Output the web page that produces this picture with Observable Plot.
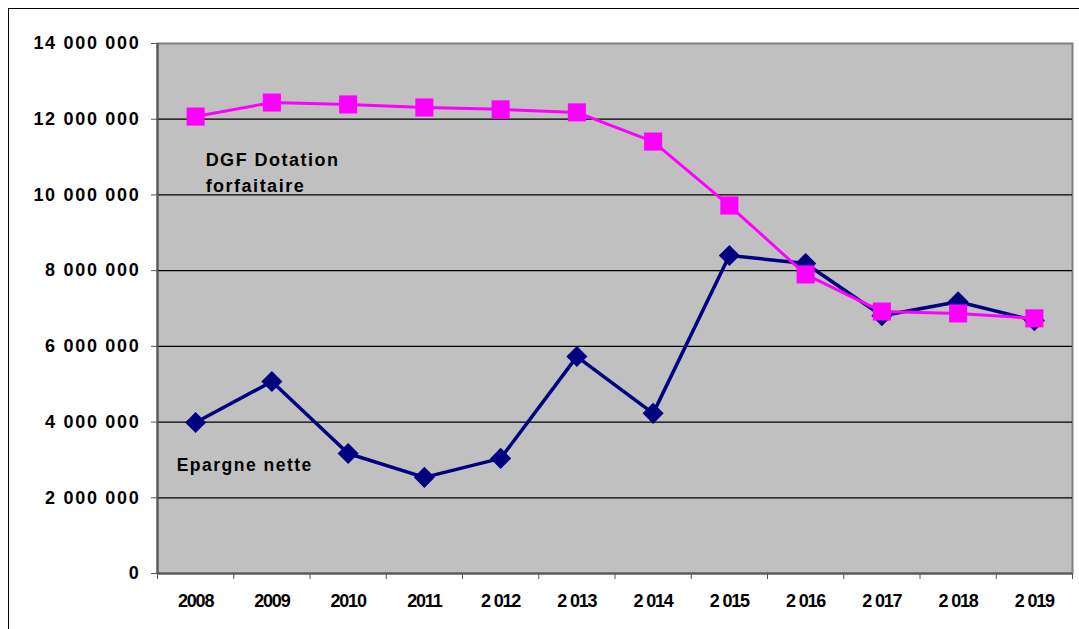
<!DOCTYPE html>
<html>
<head>
<meta charset="utf-8">
<script src="https://cdn.jsdelivr.net/npm/d3@7"></script>
<script src="https://cdn.jsdelivr.net/npm/@observablehq/plot@0.6"></script>
<style>
  html, body { margin: 0; padding: 0; background: #fff; }
  #wrap { position: relative; width: 1079px; height: 629px; overflow: hidden; }
  #border { position: absolute; left: 8px; top: 8px; width: 1200px; height: 800px;
            border-left: 1.5px solid #000; border-top: 1.5px solid #000; pointer-events: none; }
  #chart { position: absolute; left: 0; top: 0; }
  #chart svg text { font-family: "Liberation Sans", Arial, sans-serif; font-weight: bold; fill: #000; }
  #chart g[aria-label="y-axis tick label"] text { letter-spacing: 1.7px; }
  #chart g.xlab text { letter-spacing: -1.2px; }
  #chart g.lbl text { letter-spacing: 1.5px; }
</style>
</head>
<body>
<div id="wrap">
  <div id="chart"></div>
  <div id="border"></div>
</div>
<script>
const years = ["2008","2009","2010","2011","2 012","2 013","2 014","2 015","2 016","2 017","2 018","2 019"];
const dgf = [12070000, 12440000, 12390000, 12310000, 12260000, 12180000, 11410000, 9720000, 7900000, 6920000, 6870000, 6740000];
const epargne = [3990000, 5070000, 3170000, 2540000, 3040000, 5730000, 4230000, 8400000, 8190000, 6810000, 7180000, 6680000];
const yTicks = [0, 2000000, 4000000, 6000000, 8000000, 10000000, 12000000, 14000000];
const seriesNames = ["DGF Dotation\nforfaitaire", "Epargne nette"];

const fmt = d3.formatLocale({thousands: " ", grouping: [3], decimal: ","}).format(",d");
const idx = years.map((_, i) => i);
const centers = idx.map(i => i + 0.5);
const edges = [...idx, years.length];

const dgfData = years.map((y, i) => ({x: i + 0.5, v: dgf[i]}));
const epData = years.map((y, i) => ({x: i + 0.5, v: epargne[i]}));

const chart = Plot.plot({
  width: 1079,
  height: 629,
  marginLeft: 157,
  marginRight: 7,
  marginTop: 43,
  marginBottom: 56,
  style: {background: "transparent", fontSize: "17px"},
  x: {domain: [0, years.length], axis: null},
  y: {domain: [0, 14000000], axis: null},
  marks: [
    Plot.frame({fill: "#c0c0c0", stroke: "#808080", strokeWidth: 2}),
    Plot.ruleY(yTicks.slice(1, -1), {stroke: "#000", strokeWidth: 1.2}),
    Plot.ruleX([0], {stroke: "#555", strokeWidth: 2}),
    Plot.ruleY([0], {stroke: "#555", strokeWidth: 2}),
    Plot.axisY({ticks: yTicks, tickFormat: fmt, tickSize: 6, tickPadding: 11, fontSize: 18, stroke: "#555", label: null}),
    Plot.axisX({ticks: edges, tickFormat: () => "", tickSize: 6, stroke: "#555", label: null}),
    Plot.axisX({ticks: centers, tickFormat: d => years[Math.floor(d)], tickSize: 0, tickPadding: 21, fontSize: 18, className: "xlab", label: null}),
    Plot.line(epData, {x: "x", y: "v", stroke: "#000080", strokeWidth: 3.5}),
    Plot.dot(epData, {x: "x", y: "v", symbol: "diamond2", r: 9.5, fill: "#000080", stroke: "none"}),
    Plot.line(dgfData, {x: "x", y: "v", stroke: "#ff00ff", strokeWidth: 3}),
    Plot.dot(dgfData, {x: "x", y: "v", symbol: "square", r: 10.2, fill: "#ff00ff", stroke: "none"}),
    Plot.text([dgfData[0]], {x: "x", y: "v", text: () => seriesNames[0], textAnchor: "start", lineAnchor: "top",
      dx: 10, dy: 31, fontSize: 18, lineHeight: 1.45, className: "lbl"}),
    Plot.text([epData[0]], {x: "x", y: "v", text: () => seriesNames[1], textAnchor: "start", lineAnchor: "middle",
      dx: -19, dy: 43, fontSize: 17.5, className: "lbl"})
  ]
});
document.getElementById("chart").appendChild(chart);
</script>
</body>
</html>
